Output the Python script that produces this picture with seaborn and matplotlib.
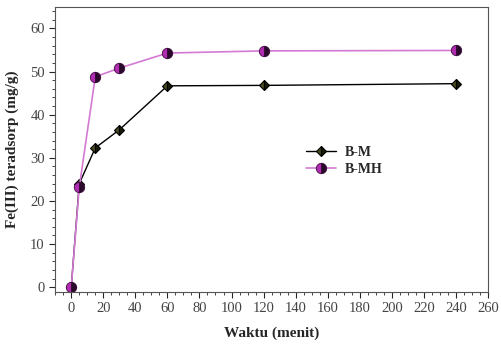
import numpy as np
import pandas as pd
import matplotlib.pyplot as plt
import seaborn as sns
from matplotlib.ticker import MultipleLocator

# --- data ---
waktu = [0, 5, 15, 30, 60, 120, 240]
b_m = [0, 24.0, 32.3, 36.5, 46.7, 46.8, 47.2]
b_mh = [0, 23.2, 48.8, 50.8, 54.3, 54.8, 54.9]

df = pd.DataFrame({"waktu": waktu, "B-M": b_m, "B-MH": b_mh})

sns.set_style("ticks")
plt.rcParams['font.family'] = ['Liberation Serif', 'DejaVu Serif']

fig, ax = plt.subplots(figsize=(5.02, 3.45), dpi=100)
fig.subplots_adjust(left=0.11, right=0.972, top=0.98, bottom=0.155)

sns.lineplot(data=df, x="waktu", y="B-M", ax=ax, color="black", lw=1,
             marker="D", markersize=5.5, fillstyle="left",
             markerfacecolor="#4a4a22", markerfacecoloralt="#1a1a08",
             markeredgecolor="black", markeredgewidth=0.8, label="B-M")
sns.lineplot(data=df, x="waktu", y="B-MH", ax=ax, color="#d47ad4", lw=1.2,
             marker="o", markersize=7.5, fillstyle="left",
             markerfacecolor="#b02cb0", markerfacecoloralt="#2a0a2a",
             markeredgecolor="#3a0a3a", markeredgewidth=0.6, label="B-MH")

ax.set_xlim(-10, 260)
ax.set_ylim(-1, 65)
ax.xaxis.set_major_locator(MultipleLocator(20))
ax.xaxis.set_minor_locator(MultipleLocator(5))
ax.yaxis.set_major_locator(MultipleLocator(10))
ax.yaxis.set_minor_locator(MultipleLocator(2))
ax.tick_params(which="major", direction="out", length=4, width=0.8,
               labelsize=10.5, labelcolor="#444444")
ax.tick_params(which="minor", direction="out", length=2, width=0.6)
for s in ax.spines.values():
    s.set_linewidth(0.8)
    s.set_color("#555555")

ax.set_xlabel("Waktu (menit)", fontsize=11, fontweight="bold", labelpad=8)
ax.set_ylabel("Fe(III) teradsorp (mg/g)", fontsize=11, fontweight="bold", labelpad=8)

ax.legend(loc="center left", bbox_to_anchor=(0.55, 0.46), frameon=False,
          prop={"weight": "bold", "size": 10}, handlelength=2.2,
          labelspacing=0.3, handletextpad=0.6)

plt.savefig("out.png", dpi=100)
